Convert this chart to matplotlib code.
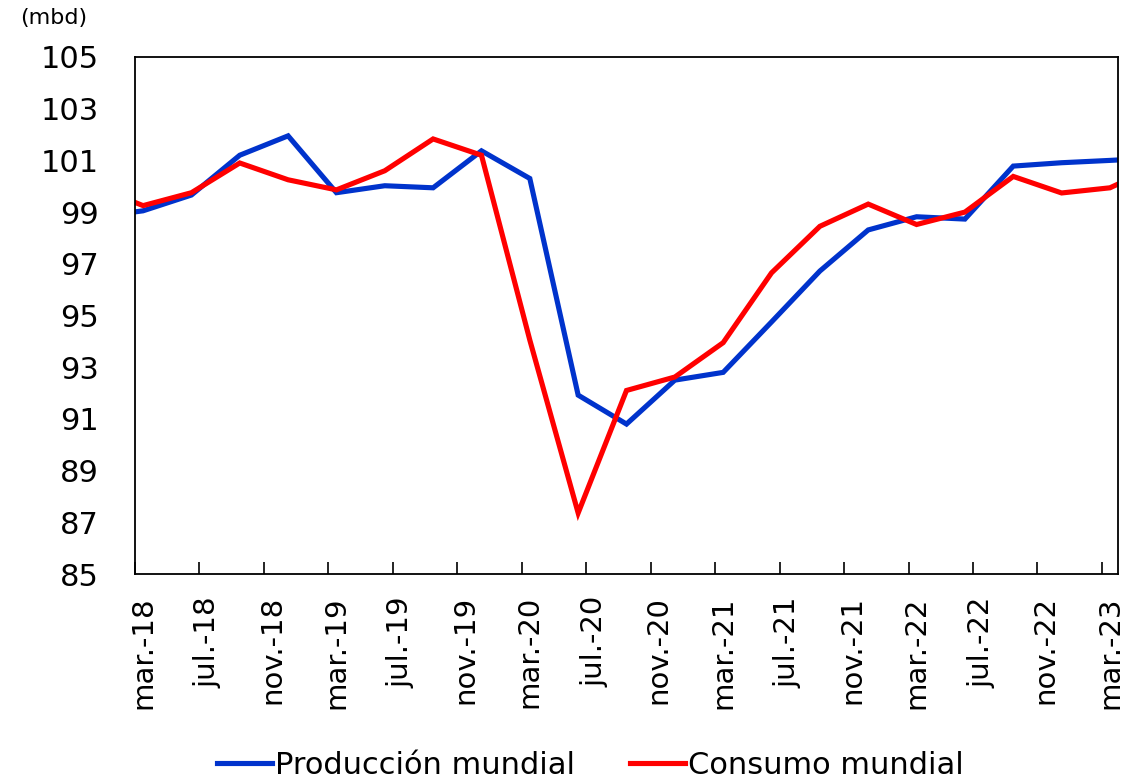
import numpy as np
import matplotlib.pyplot as plt

# quarterly points, dec-17 .. jun-23 (first and last fall outside the axis and get clipped)
quarters = ["dic.-17",
            "mar.-18", "jun.-18", "sep.-18", "dic.-18",
            "mar.-19", "jun.-19", "sep.-19", "dic.-19",
            "mar.-20", "jun.-20", "sep.-20", "dic.-20",
            "mar.-21", "jun.-21", "sep.-21", "dic.-21",
            "mar.-22", "jun.-22", "sep.-22", "dic.-22",
            "mar.-23", "jun.-23"]
produccion = [98.8,
              99.05, 99.66, 101.2, 101.95,
              99.75, 100.02, 99.94, 101.37,
              100.3, 91.92, 90.8, 92.5,
              92.8, 94.75, 96.72, 98.31,
              98.82, 98.73, 100.78, 100.91,
              101.0, 101.1]
consumo = [100.0,
           99.25, 99.75, 100.9, 100.25,
           99.86, 100.6, 101.83, 101.2,
           94.05, 87.36, 92.1, 92.62,
           93.95, 96.65, 98.45, 99.31,
           98.52, 99.0, 100.38, 99.74,
           99.94, 100.8]

xlabels = ["mar.-18", "jul.-18", "nov.-18", "mar.-19", "jul.-19", "nov.-19",
           "mar.-20", "jul.-20", "nov.-20", "mar.-21", "jul.-21", "nov.-21",
           "mar.-22", "jul.-22", "nov.-22", "mar.-23"]

# month index from mar-18, point drawn at middle of its month slot
xm = np.arange(-3, 3 * len(quarters) - 3, 3) + 0.5

plt.rcParams['font.family'] = 'DejaVu Sans'

fig = plt.figure(figsize=(11.29, 7.82), dpi=100)
ax = fig.add_axes([135 / 1129, 1 - 574 / 782, 983 / 1129, 517 / 782])

ax.plot(xm, produccion, color="#0033CC", lw=3.7, label="Producción mundial",
        solid_joinstyle='miter')
ax.plot(xm, consumo, color="#FF0000", lw=3.7, label="Consumo mundial",
        solid_joinstyle='miter')

ax.set_xlim(0, 61)
ax.set_ylim(85, 105)
ax.set_yticks(np.arange(85, 106, 2))
ax.tick_params(axis='y', length=0, pad=26, labelsize=22)

ax.set_xticks(np.arange(0, 61, 4))
ax.set_xticklabels([])
ax.tick_params(axis='x', which='major', direction='in', length=9, width=1.2)
ax.set_xticks(np.arange(0, 61, 4) + 0.5, minor=True)
ax.set_xticklabels(xlabels, minor=True, rotation=90)
ax.tick_params(axis='x', which='minor', length=0, pad=16, labelsize=21)

for s in ax.spines.values():
    s.set_linewidth(1.3)
    s.set_color("black")

fig.text(20 / 1129, 1 - 18 / 782, "(mbd)", fontsize=16, va='center', ha='left')

fig.legend(loc='center', bbox_to_anchor=(590 / 1129, 1 - 765 / 782), ncol=2,
           frameon=False, fontsize=22, handlelength=1.8, handletextpad=0.1,
           columnspacing=1.8)

fig.savefig("out.png", dpi=100)
